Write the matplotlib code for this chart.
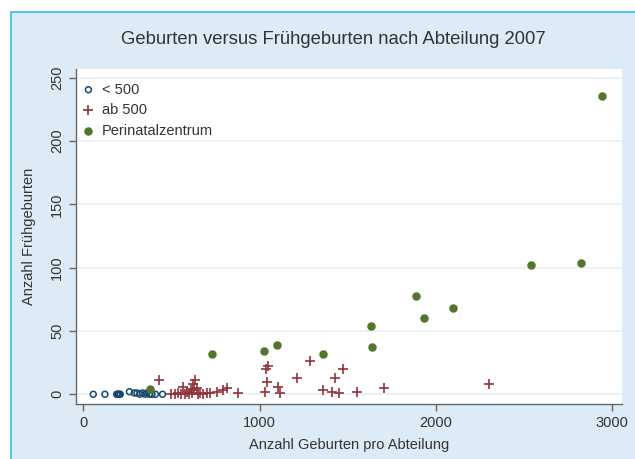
import numpy as np
import matplotlib
matplotlib.use('Agg')
import matplotlib.pyplot as plt
from matplotlib.patches import Rectangle

plt.rcParams['font.family'] = ['Liberation Sans', 'DejaVu Sans']

# Abteilungen < 500 Geburten
klein_x = [57, 123, 190, 195, 200, 205, 210, 262, 290, 305, 320, 335, 350, 360, 375, 390, 410, 450]
klein_y = [0, 0, 0, 0, 0, 0, 0, 2, 1, 1, 0, 1, 0, 1, 0, 0, 0, 0]

# Abteilungen ab 500 Geburten
mittel_x = [430, 500, 520, 540, 555, 567, 575, 590, 600, 610, 615, 624, 630, 634, 643, 650,
            662, 681, 700, 719, 757, 794, 813, 880, 1031, 1040, 1036, 1050, 1106, 1116,
            1210, 1288, 1358, 1409, 1428, 1452, 1471, 1554, 1706, 2303]
mittel_y = [11, 0, 0, 1, 0, 6, 0, 2, 0, 4, 1, 8, 3, 11, 5, 0,
            1, 0, 1, 1, 2, 3, 5, 1, 2, 10, 20, 22, 6, 1,
            13, 26, 3, 2, 13, 1, 20, 2, 5, 8]

# Perinatalzentren
zentrum_x = [378, 728, 1025, 1097, 1360, 1630, 1638, 1887, 1932, 2095, 2538, 2823, 2940]
zentrum_y = [4, 32, 34, 39, 32, 54, 37, 78, 60, 68, 102, 104, 236]

fig = plt.figure(figsize=(6.35, 4.59), dpi=100)
fig.patch.set_facecolor('white')
fig.patches.append(Rectangle((11/635, -0.01), 1.0, 1 - 12/459 + 0.01, transform=fig.transFigure,
                             facecolor='#dcebf6', edgecolor='#3db8ee', linewidth=1.2, zorder=-5))

ax = fig.add_axes([76/635, 1 - 404/459, (622 - 76)/635, (404 - 69)/459])
ax.set_zorder(2)
ax.set_facecolor('white')

ax.scatter(klein_x, klein_y, s=18, facecolors='none', edgecolors='#1a476f', linewidths=1.1,
           label='< 500', zorder=3)
ax.scatter(mittel_x, mittel_y, s=50, marker='+', color='#90353b', linewidths=1.2,
           label='ab 500', zorder=3)
ax.scatter(zentrum_x, zentrum_y, s=26, color='#55752f', label='Perinatalzentrum', zorder=3)

ax.set_xlim(-41, 3056)
ax.set_ylim(-7.7, 257)
ax.set_xticks([0, 1000, 2000, 3000])
ax.set_yticks([0, 50, 100, 150, 200, 250])
ax.grid(axis='y', color='#e6f0f7', linewidth=1.2)
ax.set_axisbelow(True)

for s in ['top', 'right']:
    ax.spines[s].set_visible(False)
for s in ['left', 'bottom']:
    ax.spines[s].set_color('#666666')
    ax.spines[s].set_linewidth(1.0)

ax.tick_params(colors='#666666', labelcolor='#333333', labelsize=10.5, length=5, width=1)
plt.setp(ax.get_yticklabels(), rotation=90, va='center')

ax.set_xlabel('Anzahl Geburten pro Abteilung', fontsize=10.5, color='#333333', labelpad=6)
ax.set_ylabel('Anzahl Frühgeburten', fontsize=10.5, color='#333333', labelpad=10)
fig.text(0.525, 1 - 40/459, 'Geburten versus Frühgeburten nach Abteilung 2007',
         ha='center', va='center', fontsize=13.3, color='#333333')

leg = ax.legend(loc='upper left', frameon=False, fontsize=10.5, handletextpad=0.3,
                labelspacing=0.45, borderaxespad=0.3, handlelength=1.2,
                bbox_to_anchor=(-0.012, 0.99))
for t in leg.get_texts():
    t.set_color('#333333')

plt.savefig('out.png', dpi=100)
